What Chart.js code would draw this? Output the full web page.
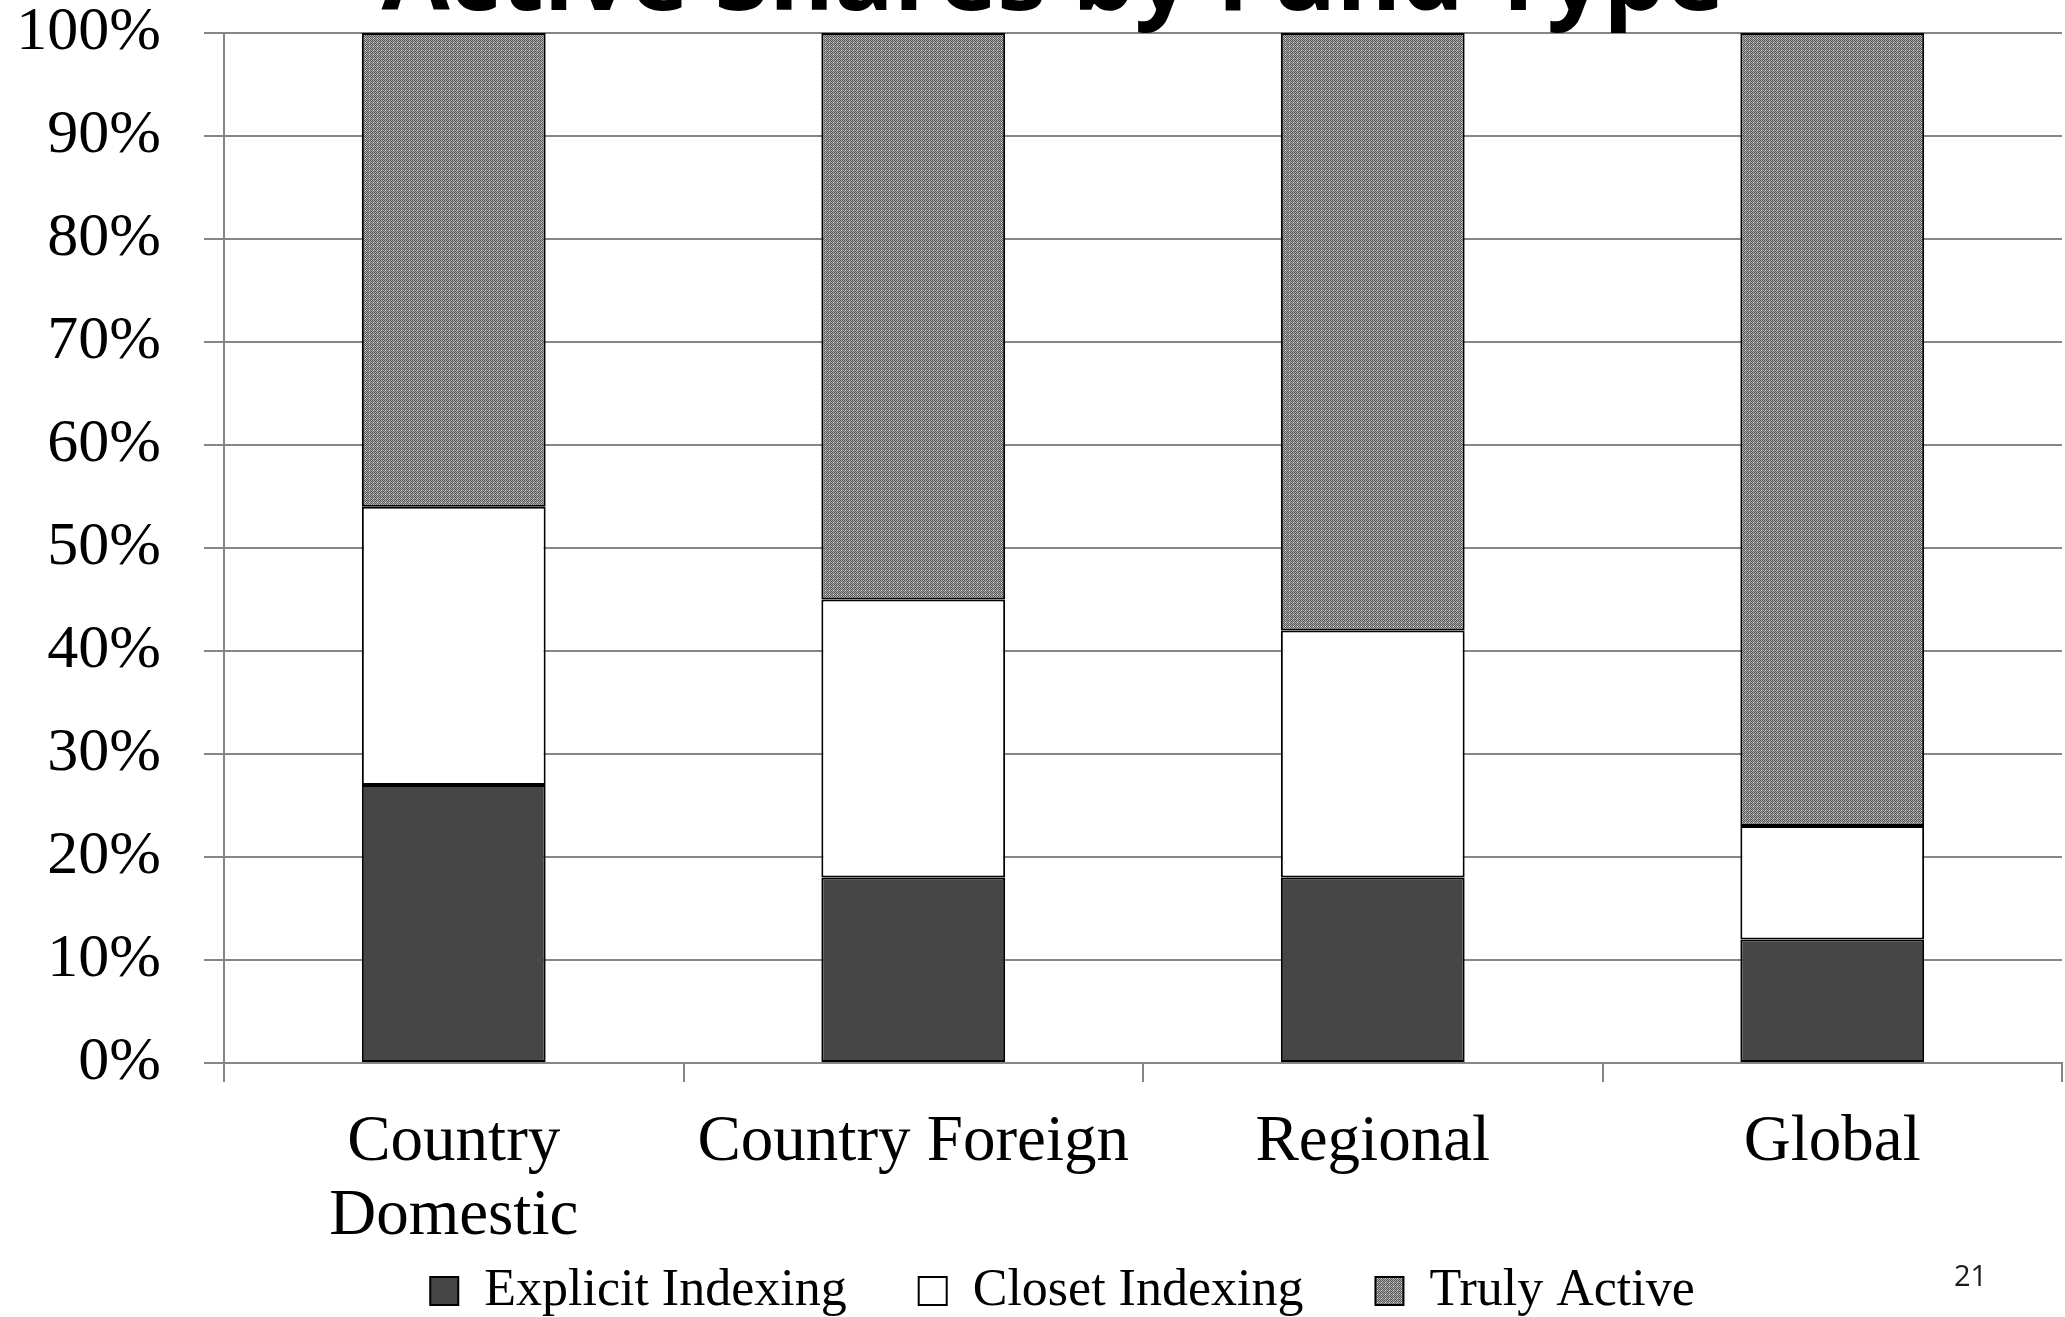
<!DOCTYPE html>
<html>
<head>
<meta charset="utf-8">
<script src="https://cdn.jsdelivr.net/npm/chart.js@4.4.1/dist/chart.umd.min.js"></script>
<style>
  html, body { margin: 0; padding: 0; background: #ffffff; overflow: hidden; }
  canvas { display: block; }
</style>
</head>
<body>
<canvas id="chart" width="2065" height="1317"></canvas>
<script>
// Fund types along the x axis
const categories = [['Country', 'Domestic'], 'Country Foreign', 'Regional', 'Global'];

// Share of funds (percent) in each group
const explicitIndexing = [27, 18, 18, 12];
const closetIndexing   = [27, 27, 24, 11];
const trulyActive      = [46, 55, 58, 77];

const seriesNames = ['Explicit Indexing', 'Closet Indexing', 'Truly Active'];
const yTickLabels = ['0%', '10%', '20%', '30%', '40%', '50%', '60%', '70%', '80%', '90%', '100%'];

const chartTitle = 'Active Shares by Fund Type';
const pageNumber = '21';

const serif = '"Liberation Serif", "Times New Roman", serif';
const gridGray = '#868686';

// Fine dotted fill used for the "Truly Active" segments
function dottedPattern() {
  const c = document.createElement('canvas');
  c.width = 4; c.height = 4;
  const g = c.getContext('2d');
  for (let y = 0; y < 4; y++) {
    for (let x = 0; x < 4; x++) {
      g.fillStyle = ((x + y) % 2 === 0) ? '#565656' : '#aaaaaa';
      if (x === 1 && y === 2) g.fillStyle = '#eeeeee';
      g.fillRect(x, y, 1, 1);
    }
  }
  return g.createPattern(c, 'repeat');
}

// Place the legend row under the category labels
const legendPlacement = {
  id: 'legendPlacement',
  afterLayout(chart) {
    const lg = chart.legend;
    if (!lg) return;
    const dx = 24.5;
    lg.left += dx;
    lg.right += dx;
    lg.top = 1193;
    lg.bottom = chart.height;
    lg.height = lg.bottom - lg.top;
  }
};

// Slide heading (runs off the top edge) and page number
const slideText = {
  id: 'slideText',
  afterDraw(chart) {
    const ctx = chart.ctx;
    ctx.save();
    ctx.fillStyle = '#000000';
    ctx.font = 'bold 96px "Open Sans", "DejaVu Sans", sans-serif';
    ctx.textBaseline = 'alphabetic';
    ctx.textAlign = 'left';
    const w = ctx.measureText(chartTitle).width;
    const targetW = 1343;
    const cx = 1053;
    ctx.translate(cx - targetW / 2, 10);
    ctx.scale(targetW / w, 1);
    ctx.fillText(chartTitle, 0, 0);
    ctx.restore();

    ctx.save();
    ctx.fillStyle = '#1a1a1a';
    ctx.font = '29px "Open Sans", Lato, sans-serif';
    ctx.textAlign = 'left';
    ctx.textBaseline = 'alphabetic';
    ctx.fillText(pageNumber, 1954, 1286);
    ctx.restore();
  }
};

new Chart(document.getElementById('chart'), {
  type: 'bar',
  data: {
    labels: categories,
    datasets: [
      { label: seriesNames[0], data: explicitIndexing, backgroundColor: '#464646' },
      { label: seriesNames[1], data: closetIndexing,   backgroundColor: '#ffffff' },
      { label: seriesNames[2], data: trulyActive,      backgroundColor: dottedPattern() }
    ].map(d => Object.assign(d, {
      borderColor: '#000000',
      borderWidth: 2,
      borderSkipped: false,
      barPercentage: 0.4,
      categoryPercentage: 1.0
    }))
  },
  options: {
    responsive: false,
    animation: false,
    devicePixelRatio: 1,
    layout: { padding: { top: 33, left: 14, right: 3, bottom: 0 } },
    plugins: {
      legend: {
        position: 'bottom',
        maxHeight: 60,
        labels: {
          boxWidth: 28,
          boxHeight: 28,
          padding: 72,
          color: '#000000',
          font: { family: serif, size: 52 }
        }
      },
      tooltip: { enabled: false }
    },
    scales: {
      x: {
        stacked: true,
        grid: {
          offset: true,
          drawOnChartArea: false,
          drawTicks: true,
          tickLength: 19,
          color: gridGray,
          lineWidth: 2
        },
        border: { color: gridGray, width: 2 },
        ticks: {
          color: '#000000',
          padding: 24,
          maxRotation: 0,
          autoSkip: false,
          font: { family: serif, size: 65, lineHeight: 1.14 }
        },
        afterFit(scale) { scale.height = 194; }
      },
      y: {
        stacked: true,
        min: 0,
        max: 100,
        grid: { color: gridGray, lineWidth: 2, tickLength: 20 },
        border: { color: gridGray, width: 2 },
        ticks: {
          stepSize: 10,
          color: '#000000',
          padding: 43,
          font: { family: serif, size: 62 },
          callback: (v, i) => yTickLabels[i]
        },
        afterFit(scale) {
          scale.width = 210;
          scale.paddingTop = 0;
          scale.paddingBottom = 0;
        }
      }
    }
  },
  plugins: [legendPlacement, slideText]
});
</script>
</body>
</html>
